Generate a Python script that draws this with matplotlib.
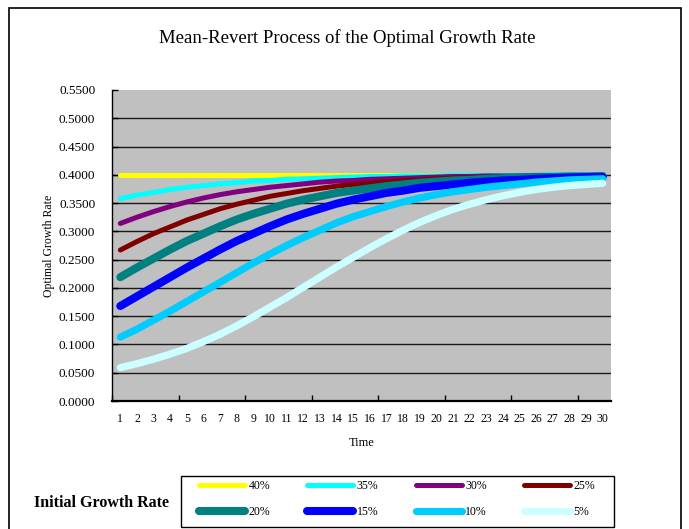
import matplotlib
matplotlib.use("Agg")
import matplotlib.pyplot as plt
from matplotlib.patches import Rectangle
from matplotlib.ticker import FixedLocator, NullFormatter

# Data (optimal growth rate over time, by initial rate)
time = list(range(1, 31))
labels = ["40%", "35%", "30%", "25%", "20%", "15%", "10%", "5%"]
colors = ["#FFFF00", "#00FFFF", "#800080", "#800000",
          "#008080", "#0000FF", "#00CCFF", "#CCFFFF"]
widths = [3.6, 3.6, 3.6, 3.6, 5.8, 5.8, 5.2, 5.2]

g40 = [0.400] * 30
g35 = [0.358, 0.364, 0.369, 0.374, 0.378, 0.381, 0.384, 0.386, 0.389, 0.390,
       0.392, 0.393, 0.394, 0.395, 0.396, 0.397, 0.397, 0.398, 0.398, 0.398,
       0.399, 0.399, 0.399, 0.399, 0.399, 0.399, 0.400, 0.400, 0.400, 0.400]
g30 = [0.314, 0.325, 0.335, 0.344, 0.352, 0.359, 0.365, 0.370, 0.374, 0.378,
       0.381, 0.384, 0.387, 0.389, 0.390, 0.392, 0.393, 0.394, 0.395, 0.396,
       0.397, 0.397, 0.398, 0.398, 0.398, 0.399, 0.399, 0.399, 0.399, 0.399]
g25 = [0.267, 0.282, 0.296, 0.308, 0.320, 0.330, 0.340, 0.348, 0.355, 0.362,
       0.367, 0.372, 0.376, 0.380, 0.383, 0.385, 0.388, 0.390, 0.391, 0.393,
       0.394, 0.395, 0.396, 0.396, 0.397, 0.397, 0.398, 0.398, 0.398, 0.399]
g20 = [0.219, 0.236, 0.252, 0.268, 0.283, 0.296, 0.309, 0.321, 0.331, 0.340,
       0.349, 0.356, 0.362, 0.368, 0.372, 0.376, 0.380, 0.383, 0.386, 0.388,
       0.390, 0.391, 0.393, 0.394, 0.395, 0.396, 0.396, 0.397, 0.397, 0.398]
g15 = [0.168, 0.185, 0.202, 0.219, 0.236, 0.252, 0.268, 0.283, 0.296, 0.309,
       0.321, 0.331, 0.340, 0.349, 0.356, 0.362, 0.368, 0.372, 0.377, 0.380,
       0.383, 0.386, 0.388, 0.390, 0.391, 0.393, 0.394, 0.395, 0.396, 0.396]
g10 = [0.113, 0.127, 0.143, 0.159, 0.176, 0.193, 0.210, 0.227, 0.244, 0.260,
       0.275, 0.289, 0.302, 0.315, 0.326, 0.335, 0.344, 0.352, 0.359, 0.365,
       0.370, 0.374, 0.378, 0.381, 0.384, 0.387, 0.389, 0.391, 0.392, 0.393]
g05 = [0.059, 0.066, 0.074, 0.083, 0.093, 0.105, 0.118, 0.133, 0.149, 0.166,
       0.183, 0.201, 0.219, 0.237, 0.254, 0.271, 0.287, 0.302, 0.316, 0.328,
       0.339, 0.348, 0.356, 0.363, 0.369, 0.374, 0.378, 0.381, 0.383, 0.385]
series = [g40, g35, g30, g25, g20, g15, g10, g05]

yticks = [0.00, 0.05, 0.10, 0.15, 0.20, 0.25, 0.30, 0.35, 0.40, 0.45, 0.50, 0.55]

serif = ["Liberation Serif", "DejaVu Serif"]

fig = plt.figure(figsize=(6.89, 5.29), dpi=100)

# outer chart border
fig.patches.append(Rectangle((9 / 689, -0.01), (681 - 9) / 689, 1 - 8 / 529 + 0.01,
                             transform=fig.transFigure, fill=False,
                             edgecolor="black", linewidth=1.2))

ax = fig.add_axes([112 / 689, 1 - 401 / 529, (611 - 112) / 689, (401 - 90) / 529])
ax.set_facecolor("#C0C0C0")

for yv in yticks[1:-1]:
    ax.axhline(yv, color="#1a1a1a", linewidth=1.0, zorder=1)

handles = []
for vals, lab, col, lw in zip(series, labels, colors, widths):
    h, = ax.plot(time, vals, color=col, linewidth=lw, label=lab,
                 solid_capstyle="round", solid_joinstyle="round", zorder=3)
    handles.append(h)

ax.set_xlim(0.5, 30.5)
ax.set_ylim(0, 0.55)

ax.set_xticks(time)
ax.set_xticklabels([str(t) for t in time], fontfamily=serif, fontsize=8.5)
ax.xaxis.set_minor_locator(FixedLocator([0.5 + 4 * k for k in range(8)]))
ax.xaxis.set_minor_formatter(NullFormatter())
ax.tick_params(axis="x", which="major", length=0, pad=9)
ax.tick_params(axis="x", which="minor", length=4, direction="in", width=1)

ax.set_yticks(yticks)
ax.set_yticklabels([f"{v:.4f}" for v in yticks], fontfamily=serif, fontsize=9.5)
ax.tick_params(axis="y", length=4, direction="in", width=1, pad=12)

for side in ["top", "right"]:
    ax.spines[side].set_visible(False)
ax.spines["left"].set_linewidth(1.0)
ax.spines["bottom"].set_linewidth(1.6)

ax.set_xlabel("Time", fontfamily=serif, fontsize=9, labelpad=8)
ax.set_ylabel("Optimal Growth Rate", fontfamily=serif, fontsize=8.5, labelpad=3)

fig.text(0.504, 0.928, "Mean-Revert Process of the Optimal Growth Rate",
         ha="center", va="center", fontfamily=serif, fontsize=13.5)

fig.text(102 / 689, 1 - 503 / 529, "Initial Growth Rate", ha="center", va="center",
         fontfamily=serif, fontsize=11.5, fontweight="bold")

# legend box drawn separately so the padding can match
fig.patches.append(Rectangle((181 / 689, 1 - 527 / 529), (614 - 181) / 689, 51 / 529,
                             transform=fig.transFigure, fill=False,
                             edgecolor="black", linewidth=1.0))

# legend fills column by column; reorder so rows read 40-25 then 20-5
order = [0, 4, 1, 5, 2, 6, 3, 7]
leg = fig.legend(handles=[handles[i] for i in order],
                 labels=[labels[i] for i in order], ncol=4,
                 loc="center", bbox_to_anchor=(397 / 689, 1 - 499 / 529),
                 frameon=False,
                 prop={"family": serif, "size": 8.5},
                 handlelength=3.9, handletextpad=0.3, columnspacing=3.15,
                 labelspacing=1.2, borderpad=0, borderaxespad=0)

fig.savefig("out.png", dpi=100)
